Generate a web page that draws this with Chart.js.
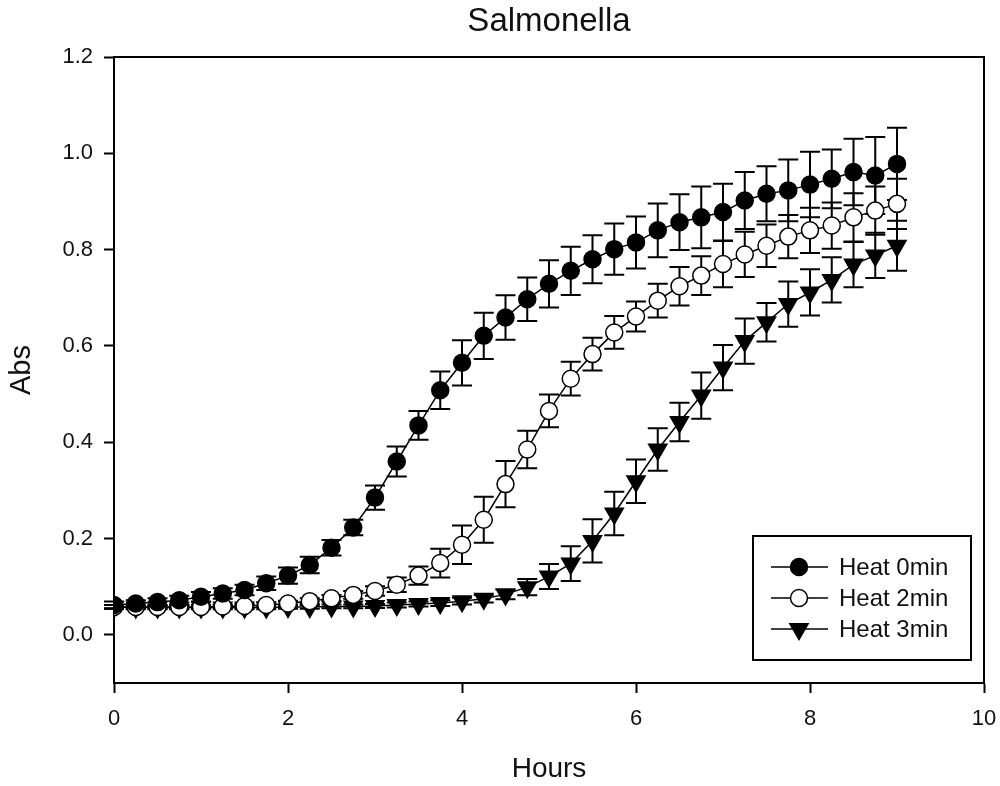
<!DOCTYPE html>
<html>
<head>
<meta charset="utf-8">
<script src="https://cdn.jsdelivr.net/npm/chart.js"></script>
<style>
    html, body { margin: 0; padding: 0; background: #fff; }
    #wrap { width: 1000px; height: 786px; position: relative; }
</style>
</head>
<body>
<div id="wrap"><canvas id="chart-salmonella"></canvas></div>
<script>
const hours = [0, 0.25, 0.5, 0.75, 1, 1.25, 1.5, 1.75, 2, 2.25, 2.5, 2.75, 3, 3.25, 3.5, 3.75, 4, 4.25, 4.5,
    4.75, 5, 5.25, 5.5, 5.75, 6, 6.25, 6.5, 6.75, 7, 7.25, 7.5, 7.75, 8, 8.25, 8.5, 8.75, 9];

const heat0 = [0.062, 0.065, 0.068, 0.072, 0.079, 0.086, 0.093, 0.107, 0.123, 0.145, 0.181, 0.223, 0.285, 0.360,
    0.435, 0.508, 0.565, 0.621, 0.659, 0.697, 0.729, 0.756, 0.780, 0.801, 0.815, 0.840, 0.857, 0.867, 0.878,
    0.902, 0.916, 0.923, 0.935, 0.947, 0.961, 0.954, 0.978];
const heat0Err = [0.007, 0.007, 0.008, 0.009, 0.010, 0.011, 0.011, 0.014, 0.017, 0.017, 0.016, 0.016, 0.025, 0.031,
    0.030, 0.039, 0.047, 0.048, 0.046, 0.045, 0.049, 0.050, 0.050, 0.053, 0.054, 0.056, 0.058, 0.064, 0.059,
    0.059, 0.057, 0.064, 0.068, 0.061, 0.069, 0.080, 0.075];

const heat2 = [0.058, 0.058, 0.058, 0.058, 0.058, 0.059, 0.060, 0.062, 0.065, 0.070, 0.076, 0.083, 0.091, 0.104,
    0.123, 0.149, 0.187, 0.239, 0.313, 0.385, 0.465, 0.532, 0.583, 0.628, 0.661, 0.694, 0.724, 0.746, 0.770,
    0.790, 0.808, 0.827, 0.840, 0.850, 0.867, 0.881, 0.895];
const heat2Err = [0.004, 0.004, 0.004, 0.004, 0.004, 0.004, 0.004, 0.005, 0.006, 0.006, 0.007, 0.008, 0.010, 0.015,
    0.019, 0.030, 0.040, 0.048, 0.048, 0.039, 0.034, 0.035, 0.034, 0.034, 0.031, 0.035, 0.040, 0.040, 0.048,
    0.047, 0.044, 0.045, 0.047, 0.048, 0.050, 0.050, 0.052];

const heat3 = [0.058, 0.057, 0.057, 0.057, 0.057, 0.057, 0.057, 0.057, 0.058, 0.058, 0.059, 0.059, 0.060, 0.062,
    0.064, 0.066, 0.070, 0.075, 0.084, 0.099, 0.121, 0.148, 0.195, 0.252, 0.319, 0.385, 0.442, 0.497, 0.555,
    0.610, 0.649, 0.687, 0.711, 0.737, 0.769, 0.788, 0.808];
const heat3Err = [0.004, 0.004, 0.004, 0.004, 0.004, 0.004, 0.004, 0.004, 0.004, 0.004, 0.004, 0.004, 0.004, 0.005,
    0.005, 0.006, 0.007, 0.008, 0.010, 0.017, 0.026, 0.036, 0.045, 0.045, 0.045, 0.044, 0.040, 0.048, 0.047,
    0.047, 0.040, 0.047, 0.048, 0.047, 0.047, 0.047, 0.052];

const seriesLabels = ['Heat 0min', 'Heat 2min', 'Heat 3min'];
const xTicks = [0, 2, 4, 6, 8, 10];
const yTicks = [0.0, 0.2, 0.4, 0.6, 0.8, 1.0, 1.2];

const FONT = '"Liberation Sans", Arial, sans-serif';

function points(vals) {
    return hours.map((h, i) => ({ x: h, y: vals[i] }));
}

// error bars, frame, title and legend drawn on top of chart.js scales
const extras = {
    id: 'extras',
    beforeDatasetsDraw(chart) {
        const ctx = chart.ctx;
        const xs = chart.scales.x, ys = chart.scales.y;
        ctx.save();
        ctx.strokeStyle = '#000';
        ctx.lineWidth = 2;
        chart.data.datasets.forEach(ds => {
            ds.data.forEach((p, i) => {
                const e = ds.errors[i];
                const px = xs.getPixelForValue(p.x);
                const top = ys.getPixelForValue(p.y + e);
                const bot = ys.getPixelForValue(p.y - e);
                ctx.beginPath();
                ctx.moveTo(px, top); ctx.lineTo(px, bot);
                ctx.moveTo(px - 10, top); ctx.lineTo(px + 10, top);
                ctx.moveTo(px - 10, bot); ctx.lineTo(px + 10, bot);
                ctx.stroke();
            });
        });
        ctx.restore();
    },
    afterDraw(chart) {
        const ctx = chart.ctx;
        const a = chart.chartArea;
        ctx.save();
        ctx.strokeStyle = '#000';
        ctx.lineWidth = 2;
        ctx.beginPath();
        ctx.moveTo(a.left, a.top); ctx.lineTo(a.right, a.top); ctx.lineTo(a.right, a.bottom);
        ctx.stroke();

        ctx.fillStyle = '#111';
        ctx.font = '33px ' + FONT;
        ctx.textAlign = 'center';
        ctx.textBaseline = 'middle';
        ctx.fillText('Salmonella', (a.left + a.right) / 2, 22);

        // legend box
        const lx = a.right - 231, ly = a.bottom - 147;
        ctx.lineWidth = 2;
        ctx.strokeRect(lx, ly, 218, 124);
        ctx.font = '24px ' + FONT;
        ctx.textAlign = 'left';
        chart.data.datasets.forEach((ds, i) => {
            const cy = ly + 31 + i * 31;
            const mx = lx + 46;
            ctx.lineWidth = 1.5;
            ctx.beginPath();
            ctx.moveTo(lx + 18, cy); ctx.lineTo(lx + 75, cy);
            ctx.stroke();
            ctx.fillStyle = ds.pointBackgroundColor;
            ctx.beginPath();
            if (ds.pointStyle === 'triangle') {
                const r = ds.pointRadius;
                ctx.moveTo(mx - r * 0.866, cy - r * 0.5);
                ctx.lineTo(mx + r * 0.866, cy - r * 0.5);
                ctx.lineTo(mx, cy + r);
                ctx.closePath();
            } else {
                ctx.arc(mx, cy, ds.pointRadius, 0, Math.PI * 2);
            }
            ctx.fill();
            ctx.stroke();
            ctx.fillStyle = '#111';
            ctx.fillText(ds.label, lx + 86, cy + 1);
        });
        ctx.restore();
    }
};

var ctx = document.getElementById('chart-salmonella');
var myChart = new Chart(ctx, {
    type: 'line',
    data: {
        datasets: [{
            label: seriesLabels[0],
            data: points(heat0),
            errors: heat0Err,
            pointStyle: 'circle',
            pointRadius: 8.5,
            pointBackgroundColor: '#000'
        }, {
            label: seriesLabels[1],
            data: points(heat2),
            errors: heat2Err,
            pointStyle: 'circle',
            pointRadius: 8.5,
            pointBackgroundColor: '#fff'
        }, {
            label: seriesLabels[2],
            data: points(heat3),
            errors: heat3Err,
            pointStyle: 'triangle',
            pointRadius: 10.5,
            pointRotation: 180,
            pointBackgroundColor: '#000'
        }]
    },
    options: {
        responsive: true,
        maintainAspectRatio: false,
        animation: false,
        layout: { padding: { top: 57, right: 16, left: 0, bottom: 0 } },
        elements: {
            line: { borderColor: '#000', borderWidth: 1.5, tension: 0 },
            point: { borderColor: '#000', borderWidth: 1.5, hoverRadius: 8.5 }
        },
        plugins: {
            legend: { display: false },
            title: { display: false },
            tooltip: { enabled: false }
        },
        scales: {
            x: {
                type: 'linear',
                min: 0,
                max: 10,
                afterBuildTicks: s => { s.ticks = xTicks.map(v => ({ value: v })); },
                afterFit: s => { s.height = 103; s.paddingLeft = 0; s.paddingRight = 0; },
                grid: { drawOnChartArea: false, tickLength: 10, tickWidth: 2, tickColor: '#000' },
                border: { color: '#000', width: 2 },
                ticks: { color: '#111', font: { family: FONT, size: 22 }, padding: 13, maxRotation: 0 },
                title: { display: true, text: 'Hours', color: '#111', font: { family: FONT, size: 28 }, padding: { bottom: 0 } }
            },
            y: {
                min: -0.1,
                max: 1.2,
                afterBuildTicks: s => { s.ticks = yTicks.map(v => ({ value: v })); },
                afterFit: s => { s.width = 114; s.paddingTop = 0; s.paddingBottom = 0; },
                grid: { drawOnChartArea: false, tickLength: 10, tickWidth: 2, tickColor: '#000' },
                border: { color: '#000', width: 2 },
                ticks: {
                    color: '#111',
                    font: { family: FONT, size: 22 },
                    padding: 11,
                    callback: v => Number(v).toFixed(1)
                },
                title: { display: true, text: 'Abs', color: '#111', font: { family: FONT, size: 29 }, padding: { top: 5 } }
            }
        }
    },
    plugins: [extras]
});
</script>
</body>
</html>
